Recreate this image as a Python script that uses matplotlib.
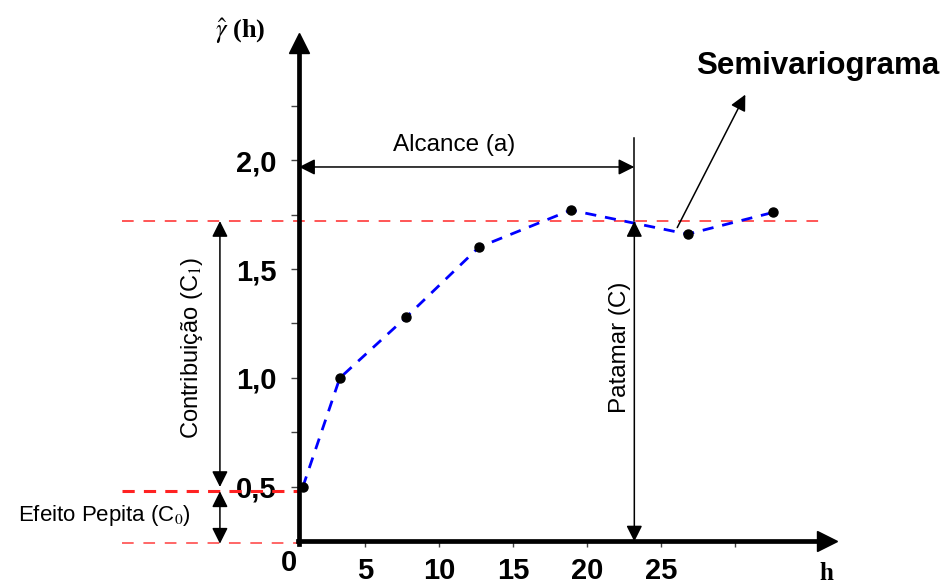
import numpy as np
import matplotlib.pyplot as plt
from matplotlib.ticker import FixedLocator, NullFormatter

# --- data ---
LAG = [0.8, 3.3, 7.8, 12.7, 18.9, 26.8, 32.6]
SEMIVAR = [0.50, 1.00, 1.28, 1.60, 1.77, 1.66, 1.76]

Y_TICKS = [0.5, 1.0, 1.5, 2.0]
Y_LABELS = ["0,5", "1,0", "1,5", "2,0"]
Y_MINOR = [0.75, 1.25, 1.75, 2.25]
X_TICKS = [5, 10, 15, 20, 25]
X_LABELS = ["5", "10", "15", "20", "25"]
X_MINOR = [30]

NUGGET = 0.48      # efeito pepita
SILL = 1.72        # patamar
RANGE_A = 23.2     # alcance
BASE = 0.25        # where the h axis crosses
Y0 = 0.55          # where the gamma axis crosses

SANS = "Liberation Sans"
SERIF = "Liberation Serif"


def main() -> None:
    plt.rcParams["mathtext.fontset"] = "stix"
    fig = plt.figure(figsize=(9.46, 5.84), dpi=100)
    ax = fig.add_axes([0, 0, 1, 1])
    ax.set_xlim(-19.66, 44.26)
    ax.set_ylim(0.055, 2.734)
    ax.patch.set_visible(False)

    # axes as crossing spines
    for s in ["top", "right"]:
        ax.spines[s].set_visible(False)
    ax.spines["left"].set_position(("data", Y0))
    ax.spines["bottom"].set_position(("data", BASE))
    ax.spines["left"].set_bounds(BASE - 0.01, 2.52)
    ax.spines["bottom"].set_bounds(Y0 - 0.1, 36.0)
    for s in ["left", "bottom"]:
        ax.spines[s].set_linewidth(3.4)
        ax.spines[s].set_capstyle("projecting")
    ax.plot(Y0, 2.535, marker="^", ms=14, color="k", clip_on=False, zorder=5)
    ax.plot(36.2, BASE, marker=">", ms=14, color="k", clip_on=False, zorder=5)

    ax.yaxis.set_major_locator(FixedLocator(Y_TICKS))
    ax.yaxis.set_minor_locator(FixedLocator(Y_MINOR))
    ax.set_yticklabels(Y_LABELS, fontfamily=SANS, fontweight="bold", fontsize=21)
    ax.xaxis.set_major_locator(FixedLocator(X_TICKS))
    ax.xaxis.set_minor_locator(FixedLocator(X_MINOR))
    ax.xaxis.set_minor_formatter(NullFormatter())
    ax.set_xticklabels(X_LABELS, fontfamily=SANS, fontweight="bold", fontsize=21)
    ax.tick_params(axis="y", which="both", direction="out", length=6, width=1,
                   color="#444444", pad=10)
    ax.tick_params(axis="x", which="both", direction="out", length=4, width=1,
                   color="#444444", pad=7)
    ax.text(-0.1, 0.15, "0", fontfamily=SANS, fontweight="bold", fontsize=21,
            ha="center", va="center")

    # red reference lines
    ax.plot([-11.4, 36.0], [SILL, SILL], ls=(0, (6, 5)), color="#ff5555", lw=1.4)
    ax.plot([-11.4, Y0], [NUGGET, NUGGET], ls=(0, (4, 3)), color="#ff2222", lw=2.2)
    ax.plot([-11.4, Y0], [BASE - 0.005, BASE - 0.005], ls=(0, (6, 5)),
            color="#ff6666", lw=1.4)

    # experimental semivariogram
    ax.plot(LAG, SEMIVAR, ls=(0, (4, 3.2)), color="#0000ff", lw=2.0, zorder=3)
    ax.plot(LAG, SEMIVAR, "o", color="k", ms=6.5, zorder=4)

    arrow = dict(arrowstyle="<|-|>", color="k", lw=1.1, mutation_scale=24,
                 shrinkA=0, shrinkB=0)

    # contribuicao
    ax.annotate("", xy=(-4.8, SILL), xytext=(-4.8, 0.5), arrowprops=arrow)
    ax.text(-6.7, 1.14, "Contribuição (C$_1$)", rotation=90, fontfamily=SANS,
            fontsize=17, ha="center", va="center")

    # efeito pepita
    ax.annotate("", xy=(-4.8, NUGGET), xytext=(-4.8, BASE - 0.01), arrowprops=arrow)
    ax.text(-12.6, 0.37, "Efeito Pepita (C$_0$)", fontfamily=SANS, fontsize=16,
            ha="center", va="center")

    # alcance
    ax.annotate("", xy=(Y0, 1.968), xytext=(RANGE_A, 1.968), arrowprops=arrow)
    ax.text(11.0, 2.07, "Alcance (a)", fontfamily=SANS, fontsize=17.5,
            ha="center", va="center")
    ax.plot([RANGE_A, RANGE_A], [SILL, 2.10], color="k", lw=1.1)

    # patamar
    ax.annotate("", xy=(RANGE_A, SILL), xytext=(RANGE_A, BASE), arrowprops=arrow)
    ax.text(22.2, 1.14, "Patamar (C)", rotation=90, fontfamily=SANS,
            fontsize=17.5, ha="center", va="center")

    # semivariograma label
    ax.annotate("", xy=(30.7, 2.30), xytext=(26.1, 1.69),
                arrowprops=dict(arrowstyle="-|>", color="k", lw=1.1,
                                mutation_scale=24, shrinkA=0, shrinkB=0,
                                facecolor="k", edgecolor="#333333"))
    ax.text(35.6, 2.43, "Semivariograma", fontfamily=SANS, fontweight="bold",
            fontsize=22.5, ha="center", va="center")

    # axis titles
    ax.text(-3.45, 2.59, r"$\hat{\gamma}$ (h)", fontfamily=SERIF,
            fontweight="bold", fontsize=19, ha="center", va="center")
    ax.text(36.2, 0.105, "h", fontfamily=SERIF, fontweight="bold", fontsize=18,
            ha="center", va="center")

    fig.savefig("out.png", dpi=100)


if __name__ == "__main__":
    main()
